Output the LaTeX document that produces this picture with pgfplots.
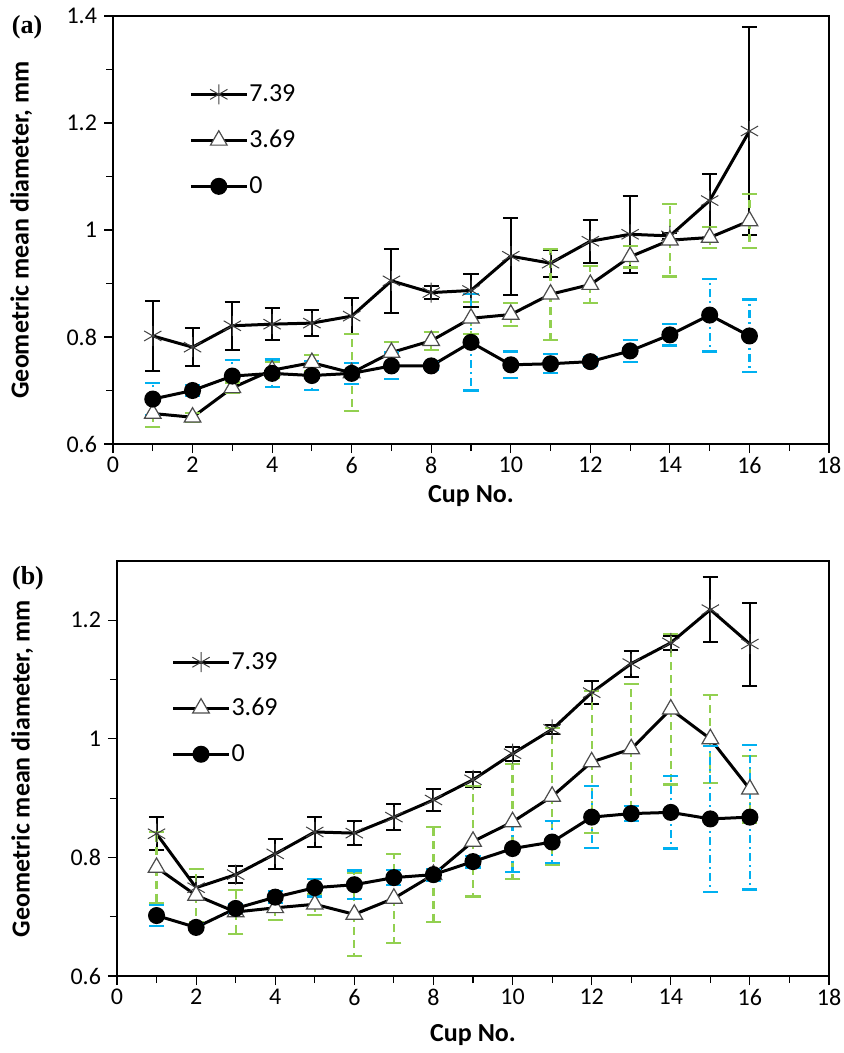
\documentclass[border=0pt]{standalone}
\usepackage{fontspec}
\setmainfont{Carlito}
\setsansfont{Carlito}
\newfontfamily\panelfont{Liberation Serif}
\usepackage{pgfplots}
\usepackage{pgfplotstable}
\pgfplotsset{compat=1.18}

\definecolor{errgreen}{RGB}{146,208,80}
\definecolor{errblue}{RGB}{0,176,240}

% ---- panel (a): x, mean, error ----
\pgfplotstableread{
x y e
1 0.802 0.065
2 0.781 0.035
3 0.821 0.045
4 0.824 0.030
5 0.826 0.025
6 0.839 0.033
7 0.905 0.060
8 0.883 0.012
9 0.887 0.030
10 0.951 0.072
11 0.938 0.025
12 0.979 0.040
13 0.992 0.072
14 0.989 0.005
15 1.055 0.050
16 1.185 0.195
}\aHigh
\pgfplotstableread{
x y e
1 0.657 0.025
2 0.650 0.008
3 0.705 0.010
4 0.738 0.015
5 0.752 0.015
6 0.733 0.072
7 0.771 0.020
8 0.793 0.017
9 0.835 0.030
10 0.842 0.022
11 0.880 0.085
12 0.898 0.035
13 0.950 0.020
14 0.981 0.068
15 0.986 0.020
16 1.017 0.050
}\aMid
\pgfplotstableread{
x y e
1 0.684 0.030
2 0.700 0.010
3 0.727 0.030
4 0.732 0.026
5 0.728 0.027
6 0.732 0.020
7 0.746 0.025
8 0.746 0.008
9 0.790 0.090
10 0.748 0.025
11 0.750 0.018
12 0.754 0.008
13 0.774 0.020
14 0.804 0.020
15 0.841 0.068
16 0.802 0.068
}\aZero

% ---- panel (b) ----
\pgfplotstableread{
x y e
1 0.840 0.028
2 0.749 0.018
3 0.771 0.014
4 0.806 0.025
5 0.843 0.025
6 0.841 0.020
7 0.868 0.022
8 0.897 0.018
9 0.931 0.013
10 0.975 0.012
11 1.016 0.008
12 1.078 0.020
13 1.127 0.022
14 1.162 0.012
15 1.218 0.055
16 1.160 0.070
}\bHigh
\pgfplotstableread{
x y e
1 0.783 0.060
2 0.736 0.045
3 0.708 0.037
4 0.715 0.020
5 0.721 0.018
6 0.704 0.070
7 0.731 0.075
8 0.771 0.080
9 0.827 0.093
10 0.860 0.097
11 0.903 0.115
12 0.961 0.120
13 0.983 0.110
14 1.050 0.127
15 1.000 0.074
16 0.915 0.056
}\bMid
\pgfplotstableread{
x y e
1 0.702 0.018
2 0.682 0.005
3 0.714 0.008
4 0.733 0.010
5 0.749 0.015
6 0.754 0.024
7 0.766 0.013
8 0.771 0.010
9 0.793 0.010
10 0.815 0.040
11 0.826 0.035
12 0.868 0.052
13 0.874 0.013
14 0.876 0.061
15 0.865 0.123
16 0.868 0.122
}\bZero

\pgfplotsset{
  cupaxis/.style={
    scale only axis, width=358pt,
    xmin=0, xmax=18, xtick={0,2,...,18},
    minor x tick num=1, minor y tick num=1,
    axis line style={line width=0.9pt},
    tick style={black, line width=0.6pt},
    major tick length=4.5pt, minor tick length=3.5pt,
    tick align=outside, xtick pos=bottom, ytick pos=left,
    ticklabel style={font=\fontsize{12}{14}\selectfont},
    xticklabel style={yshift=1.5pt},
    /pgf/number format/assume math mode=true,
    label style={font=\bfseries\fontsize{13}{15}\selectfont},
    xlabel={Cup No.}, ylabel={Geometric mean diameter, mm},
    legend style={draw=none, fill=none, inner sep=0pt,
      font=\fontsize{13}{15}\selectfont, anchor=north west,
      nodes={text height=9pt, text depth=2pt, inner sep=0.5pt},
      row sep=11pt},
    legend cell align=left,
    legend image code/.code={\draw[mark repeat=2, mark phase=2]
      plot coordinates {(0pt,0pt) (14pt,0pt) (28pt,0pt)};},
  },
  s739/.style={black, line width=1.5pt, mark=asterisk, mark size=5pt,
    mark options={line width=0.5pt, draw=black!75},
    error bars/.cd, y dir=both, y explicit,
    error bar style={black, line width=1pt, solid},
    error mark options={rotate=90, mark size=3.8pt, line width=1pt, black, solid}},
  s369/.style={black, line width=1.5pt, mark=triangle*, mark size=4.8pt,
    mark options={line width=0.6pt, draw=black!70, fill=white, solid},
    error bars/.cd, y dir=both, y explicit,
    error bar style={errgreen, line width=1.1pt, dash pattern=on 4pt off 2.5pt},
    error mark options={rotate=90, mark size=3.8pt, line width=1.1pt, errgreen, solid}},
  s0/.style={black, line width=1.5pt, mark=*, mark size=3.5pt,
    mark options={fill=black, solid},
    error bars/.cd, y dir=both, y explicit,
    error bar style={errblue, line width=1.1pt, dash pattern=on 4pt off 2pt on 1pt off 2pt},
    error mark options={rotate=90, mark size=3.8pt, line width=1.1pt, errblue, solid}},
}

\begin{document}
\begin{tikzpicture}
\useasboundingbox (0,0) rectangle (422pt,-526.5pt);

% ==================== panel (a) ====================
\begin{axis}[cupaxis,
  at={(56.5pt,-222pt)}, anchor=south west,
  height=214pt,
  ymin=0.6, ymax=1.4, ytick={0.6,0.8,...,1.41},
  ylabel style={at={(axis description cs:-0.128,0.5)}, anchor=center},
  xlabel style={at={(axis description cs:0.5,0)}, anchor=center, yshift=-26pt},
  legend style={at={(axis description cs:0.106,0.846)}},
]
\addplot[s739] table[x=x, y=y, y error=e] {\aHigh};
\addlegendentry{7.39}
\addplot[s369] table[x=x, y=y, y error=e] {\aMid};
\addlegendentry{3.69}
\addplot[s0] table[x=x, y=y, y error=e] {\aZero};
\addlegendentry{0}
\end{axis}

% ==================== panel (b) ====================
\begin{axis}[cupaxis,
  at={(58.5pt,-488pt)}, anchor=south west,
  height=207.5pt, width=356pt,
  ymin=0.6, ymax=1.3, ytick={0.6,0.8,...,1.21},
  ylabel style={at={(axis description cs:-0.133,0.5)}, anchor=center},
  xlabel style={at={(axis description cs:0.5,0)}, anchor=center, yshift=-29.5pt},
  legend style={at={(axis description cs:0.076,0.786)}},
]
\addplot[s739] table[x=x, y=y, y error=e] {\bHigh};
\addlegendentry{7.39}
\addplot[s369] table[x=x, y=y, y error=e] {\bMid};
\addlegendentry{3.69}
\addplot[s0] table[x=x, y=y, y error=e] {\bZero};
\addlegendentry{0}
\end{axis}

\node[font=\panelfont\bfseries\fontsize{13}{15}\selectfont] at (13.5pt,-13.5pt) {(a)};
\node[font=\panelfont\bfseries\fontsize{13}{15}\selectfont] at (14pt,-289pt) {(b)};
\end{tikzpicture}
\end{document}
